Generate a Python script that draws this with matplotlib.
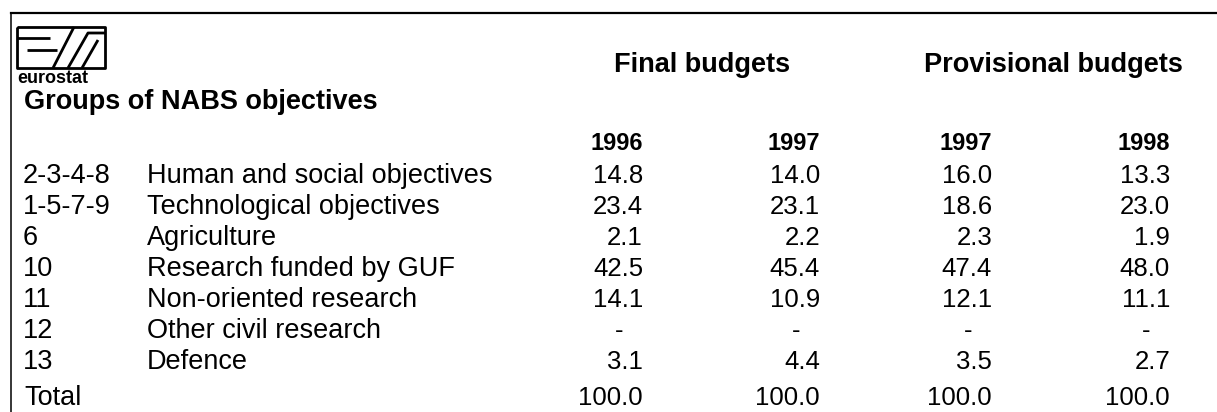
import matplotlib.pyplot as plt

plt.rcParams['font.family'] = ['Liberation Sans', 'DejaVu Sans']

codes = ['2-3-4-8', '1-5-7-9', '6', '10', '11', '12', '13']
labels = ['Human and social objectives', 'Technological objectives', 'Agriculture',
          'Research funded by GUF', 'Non-oriented research', 'Other civil research',
          'Defence']
years = ['1996', '1997', '1997', '1998']
final_1996 = [14.8, 23.4, 2.1, 42.5, 14.1, None, 3.1]
final_1997 = [14.0, 23.1, 2.2, 45.4, 10.9, None, 4.4]
prov_1997 = [16.0, 18.6, 2.3, 47.4, 12.1, None, 3.5]
prov_1998 = [13.3, 23.0, 1.9, 48.0, 11.1, None, 2.7]
totals = [100.0, 100.0, 100.0, 100.0]

columns = [final_1996, final_1997, prov_1997, prov_1998]

W, H = 1217, 412
fig = plt.figure(figsize=(W / 100, H / 100), dpi=100)
ax = fig.add_axes([0, 0, 1, 1])
ax.set_xlim(0, W)
ax.set_ylim(H, 0)
ax.axis('off')

# frame lines
ax.plot([11, W], [13, 13], color='black', lw=1.6)
ax.plot([11, 11], [13, H], color='black', lw=1.1)

# eurostat logo
lk = dict(color='black', lw=2, solid_capstyle='butt')
ax.plot([17, 105, 105, 17, 17], [27, 27, 68, 68, 27], **lk)
ax.plot([17, 50], [38, 38], **lk)
ax.plot([27, 57], [50, 50], **lk)
ax.plot([53, 74], [68, 27], **lk)
ax.plot([68, 88, 105], [68, 33, 33], **lk)
ax.plot([82, 98], [68, 40], **lk)
ax.text(17, 83, 'eurostat', fontsize=13, fontweight='bold', va='baseline', ha='left')

hdr = 19.5
body = 18.5
txt = 19.5
ax.text(702, 65, 'Final budgets', fontsize=hdr, fontweight='bold', ha='center', va='center')
ax.text(1053, 65, 'Provisional budgets', fontsize=hdr, fontweight='bold', ha='center', va='center')
ax.text(24, 102, 'Groups of NABS objectives', fontsize=hdr, fontweight='bold', ha='left', va='center')

col_right = [643, 820, 992, 1170]
for x, yr in zip(col_right, years):
    ax.text(x, 144, yr, fontsize=17, fontweight='bold', ha='right', va='center')

row_y0, row_step = 176, 31
for i, (c, lab) in enumerate(zip(codes, labels)):
    y = row_y0 + i * row_step
    ax.text(23, y, c, fontsize=txt, ha='left', va='center')
    ax.text(147, y, lab, fontsize=txt, ha='left', va='center')
    for x, col in zip(col_right, columns):
        v = col[i]
        if v is None:
            ax.text(x - 24, y, '-', fontsize=body, ha='center', va='center')
        else:
            ax.text(x, y, f'{v:.1f}', fontsize=body, ha='right', va='center')

ty = 398
ax.text(24, ty, 'Total', fontsize=txt, ha='left', va='center')
for x, t in zip(col_right, totals):
    ax.text(x, ty, f'{t:.1f}', fontsize=body, ha='right', va='center')

fig.savefig('out.png', dpi=100)
